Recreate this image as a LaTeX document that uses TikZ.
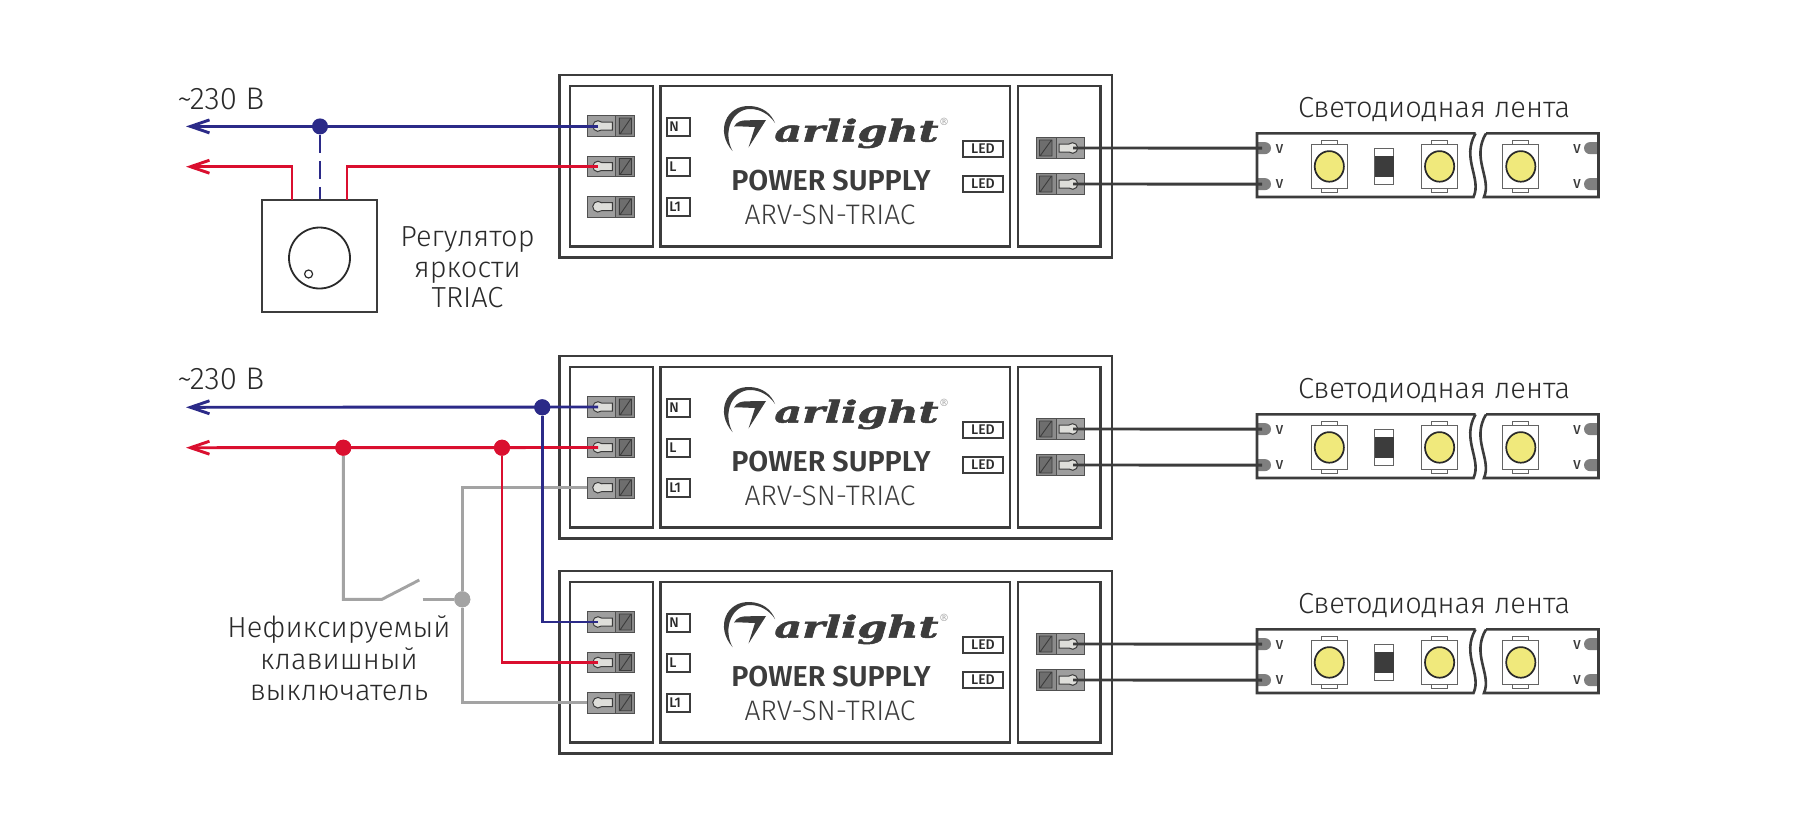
\documentclass[tikz,border=0pt]{standalone}
\usepackage{fontspec}
\usepackage{graphicx}
\usetikzlibrary{arrows.meta}
\setmainfont{Fira Sans Light}[BoldFont={Fira Sans Medium}]
\newfontfamily\boldf{Fira Sans Medium}
\newfontfamily\heavyf{Fira Sans SemiBold}
\newfontfamily\logof{DejaVu Serif}[BoldItalicFeatures={FakeBold=1.6}]
\definecolor{ink}{HTML}{3C3C3C}
\definecolor{txt}{HTML}{2A2A2A}
\definecolor{wblue}{HTML}{2B2A88}
\definecolor{wred}{HTML}{DA0F2F}
\definecolor{wgrey}{HTML}{A3A3A3}
\definecolor{tdark}{HTML}{6E6E6E}
\definecolor{tmid}{HTML}{9E9E9E}
\definecolor{tlite}{HTML}{DEDEDA}
\definecolor{ledy}{HTML}{F0E97C}
\definecolor{pad}{HTML}{7F7F7F}
\tikzset{
  x=0.5pt,y=-0.5pt,
  box/.style={draw=ink,line width=1.4pt,fill=white},
  wirew/.style={line width=1.45pt,line join=miter},
  blue wire/.style={wirew,draw=wblue},
  red wire/.style={wirew,draw=wred},
  grey wire/.style={wirew,draw=wgrey},
  out wire/.style={wirew,draw=ink},
  dot/.style={circle,inner sep=0pt,minimum size=8pt},
  barb/.style={-{Straight Barb[length=9.5pt,width=6.5pt,line width=1.45pt]}},
  lab/.style={text=txt,font=\fontsize{14.5}{17}\selectfont,inner sep=0pt},
  tag/.style={draw=ink,line width=1pt,fill=white,inner sep=0pt,text=txt,font=\boldf\fontsize{7}{7}\selectfont},
}
% terminal: #1 name, #2 centre y; input side
\newcommand\terml[2]{%
  \fill[tmid] (587.3,#2-10.3) rectangle (615.7,#2+10.3);
  \fill[tdark!80] (615.7,#2-10.3) rectangle (634.7,#2+10.3);
  \draw[ink!90,line width=0.5pt] (587.3,#2-10.3) rectangle (634.7,#2+10.3) (615.7,#2-10.3) -- (615.7,#2+10.3);
  \draw[ink,fill=tdark,line width=0.45pt] (619.3,#2-8) rectangle (631.5,#2+8) (620,#2+8) -- (631,#2-8);
  \draw[ink,fill=tlite,line width=0.5pt] (601.5,#2-4) -- (612.3,#2-4) -- (612.3,#2+4) -- (601.5,#2+4) arc[start angle=49,end angle=311,radius=5.3] -- cycle;
  \coordinate (#1) at (598,#2);
}
\newcommand\termr[2]{%
  \fill[tmid] (1056,#2-10.3) rectangle (1084,#2+10.3);
  \fill[tdark!80] (1036,#2-10.3) rectangle (1056,#2+10.3);
  \draw[ink!90,line width=0.5pt] (1036,#2-10.3) rectangle (1084,#2+10.3) (1056,#2-10.3) -- (1056,#2+10.3);
  \draw[ink,fill=tdark,line width=0.45pt] (1039.5,#2-8) rectangle (1052,#2+8) (1040,#2+8) -- (1051.5,#2-8);
  \draw[ink,fill=tlite,line width=0.5pt] (1069,#2-4) -- (1059,#2-4) -- (1059,#2+4) -- (1069,#2+4) arc[start angle=131,end angle=-131,radius=5.3] -- cycle;
  \coordinate (#1) at (1073,#2);
}
% power supply unit: #1 prefix, #2 top y of outer box
\newcommand\psu[2]{%
\begin{scope}[shift={(0,#2)}]
  \draw[box] (559.5,0) rectangle (1112,182.5);
  \draw[box] (570,11) rectangle (653,171.5);
  \draw[box] (660.5,11) rectangle (1010,171.5);
  \draw[box] (1018,11) rectangle (1100.5,171.5);
  \terml{#1N}{51}\terml{#1L}{91.5}\terml{#1K}{131.7}
  \node[tag,minimum width=11.5pt,minimum height=9pt,anchor=center,align=left,text width=11.5pt] (#1tN) at (678,51.5) {\hspace{1.4pt}N};
  \node[tag,minimum width=11.5pt,minimum height=9pt,anchor=center,align=left,text width=11.5pt] (#1tL) at (678,91.5) {\hspace{1.4pt}L};
  \node[tag,minimum width=11.5pt,minimum height=9pt,anchor=center,align=left,text width=11.5pt] (#1tK) at (678,132) {\hspace{1.4pt}L1};
  \node[tag,minimum width=20pt,minimum height=8pt] (#1tA) at (983,73.5) {LED};
  \node[tag,minimum width=20pt,minimum height=8pt] (#1tB) at (983,108.5) {LED};
  \termr{#1P}{73}\termr{#1Q}{109}
  % logo
  \fill[ink] (732.5,76) .. controls (715,56) and (726,30) .. (750,31)
     .. controls (762,31.5) and (771,38) .. (775,48)
     .. controls (769,39) and (760,34) .. (750,34)
     .. controls (733,34) and (722,56) .. (732.5,76) -- cycle;
  \fill[ink] (734,51.5) .. controls (737,46) and (742,45.5) .. (746,45.3) -- (766,45) -- (748.5,72.5) -- (755,52) -- (743,51.5) .. controls (740,51.3) and (737,51.2) .. (734,51.5) -- cycle;
  \node[anchor=base west,inner sep=0pt,text=ink] (#1logo) at (774,66.5) {\logof\bfseries\itshape\scalebox{1.65}[1.16]{\fontsize{13}{13}\selectfont arlight}};
  \node[inner sep=0pt,text=ink!50] (#1reg) at (944,47) {\logof\fontsize{5}{5}\selectfont ®};
  \node[anchor=base,inner sep=0pt,text=ink] (#1ps) at (831,115) {\heavyf\fontsize{14.4}{16}\selectfont POWER SUPPLY};
  \node[anchor=base,inner sep=0pt,text=ink] (#1mod) at (830,149) {\fontsize{14.1}{15}\selectfont ARV-SN-TRIAC};
\end{scope}}
% LED strip: #1 prefix, #2 top y
\newcommand\ledchip[1]{%
  \draw[ink!80,line width=0.5pt,fill=white] (#1-8,7.3) rectangle (#1+8,11.3) (#1-8,55) rectangle (#1+8,59);
  \draw[ink!80,line width=0.6pt,fill=white] (#1-18,11.3) rectangle (#1+18,55);
  \draw[txt,line width=0.85pt,fill=ledy] (#1,33) circle[x radius=14.6,y radius=15.3];
}
\newcommand\strip[2]{%
\begin{scope}[shift={(0,#2)}]
  \fill[pad] (1258,8.7) -- (1265,8.7) arc[start angle=-90,end angle=90,radius=6] -- (1258,20.7) -- cycle;
  \fill[pad] (1258,44.7) -- (1265,44.7) arc[start angle=-90,end angle=90,radius=6] -- (1258,56.7) -- cycle;
  \fill[pad] (1598,8.7) -- (1590,8.7) arc[start angle=-90,end angle=-270,radius=6] -- (1598,20.7) -- cycle;
  \fill[pad] (1598,44.7) -- (1590,44.7) arc[start angle=-90,end angle=-270,radius=6] -- (1598,56.7) -- cycle;
  \draw[ink,line width=1.3pt] (1475.5,0) -- (1257,0) -- (1257,63.6) -- (1473.5,63.6) .. controls (1482,45) and (1461,25) .. (1475.5,0);
  \draw[ink,line width=1.3pt] (1486,0) -- (1598.5,0) -- (1598.5,63.6) -- (1484,63.6) .. controls (1492,45) and (1471,25) .. (1486,0);
  \ledchip{1329.3}\ledchip{1439.6}\ledchip{1520.8}
  \draw[ink!80,line width=0.6pt,fill=white] (1374.7,15.3) rectangle (1393.7,51);
  \fill[ink] (1374.7,22.6) rectangle (1393.7,43.3);
  \foreach \v/\yy in {a/16,b/51}{
    \node[inner sep=0pt,text=ink] (#1v\v) at (1279.5,\yy) {\boldf\fontsize{6.5}{7}\selectfont V};
    \node[inner sep=0pt,text=ink] (#1w\v) at (1577,\yy) {\boldf\fontsize{6.5}{7}\selectfont V};}
  \coordinate (#1a) at (1262,14.7);
  \coordinate (#1b) at (1262,50.7);
  \node[lab,anchor=base] (#1lab) at (1434,-15.5) {Светодиодная лента};
\end{scope}}
\begin{document}
\begin{tikzpicture}
\useasboundingbox[fill=white] (0,0) rectangle (1819,832);
\psu{A}{75}\psu{B}{356}\psu{C}{571}
\strip{SA}{133.4}\strip{SB}{414.4}\strip{SC}{629.4}
% output wires
\foreach \u/\s in {A/SA,B/SB,C/SC}{
  \draw[out wire] (\u P) -- (\s a);
  \draw[out wire] (\u Q) -- (\s b);}
% first row: dimmer
\node[draw=ink,line width=1pt,fill=white,minimum width=57.5pt,minimum height=56pt,inner sep=0pt] (dim) at (319.5,255.5) {};
\node[draw=txt,line width=0.9pt,circle,minimum size=30.5pt,inner sep=0pt] (knob) at (319.5,258) {};
\node[draw=txt,line width=0.6pt,circle,minimum size=4pt,inner sep=0pt] (pin) at (308.6,274) {};
\coordinate (af) at (186,126.4);
\coordinate (ag) at (186,166.7);
\coordinate (dL) at (292,199.5);
\coordinate (dR) at (347,199.5);
\node[dot,fill=wblue] (da) at (320,126.4) {};
\draw[blue wire,dash pattern=on 9pt off 4pt] (da) -- (da |- dim.north);
\draw[blue wire,barb] (AN |- af) -- (af);
\draw[red wire,barb] (dL) |- (ag);
\draw[red wire] (dR) |- (AL);
\node[lab,align=center,anchor=base] (regl) at (467.5,246) {Регулятор};
\node[lab,anchor=base] (reg2) at (467.5,277) {яркости};
\node[lab,anchor=base] (reg3) at (467.5,307) {TRIAC};
\node[lab,anchor=base west,font=\fontsize{15.6}{17}\selectfont] (v1) at (177,109.5) {\char`\~230 В};
% second group
\node[lab,anchor=base west,font=\fontsize{15.6}{17}\selectfont] (v2) at (177,389.5) {\char`\~230 В};
\coordinate (bf) at (186,407.3);
\coordinate (bg) at (186,447.7);
\node[dot,fill=wblue] (db) at (542.3,407.3) {};
\node[dot,fill=wred] (dc) at (343.3,447.7) {};
\node[dot,fill=wred] (dd) at (502,447.7) {};
\node[dot,fill=wgrey] (de) at (462.3,599.3) {};
\coordinate (sa) at (382,599.3);
\coordinate (sb) at (419.3,580);
\coordinate (sc) at (422.7,599.3);
\draw[grey wire] (BK) ++(-11,0) -| (de);
\draw[grey wire] (CK) ++(-11,0) -| (de);
\draw[grey wire] (dc) |- (sa) -- (sb);
\draw[grey wire] (sc) -- (de);
\draw[blue wire,barb] (BN) -- (bf);
\draw[red wire,barb] (BL) -- (bg);
\draw[blue wire] (db) |- (CN);
\draw[red wire] (dd) |- (CL);
\node[dot,fill=wblue] at (db) {};
\node[dot,fill=wred] at (dc) {};
\node[dot,fill=wred] at (dd) {};
\node[dot,fill=wgrey] at (de) {};
\node[lab,anchor=base] (sw1) at (339,637.3) {Нефиксируемый};
\node[lab,anchor=base] (sw2) at (339,669) {клавишный};
\node[lab,anchor=base] (sw3) at (339,700.7) {выключатель};
\end{tikzpicture}
\end{document}
